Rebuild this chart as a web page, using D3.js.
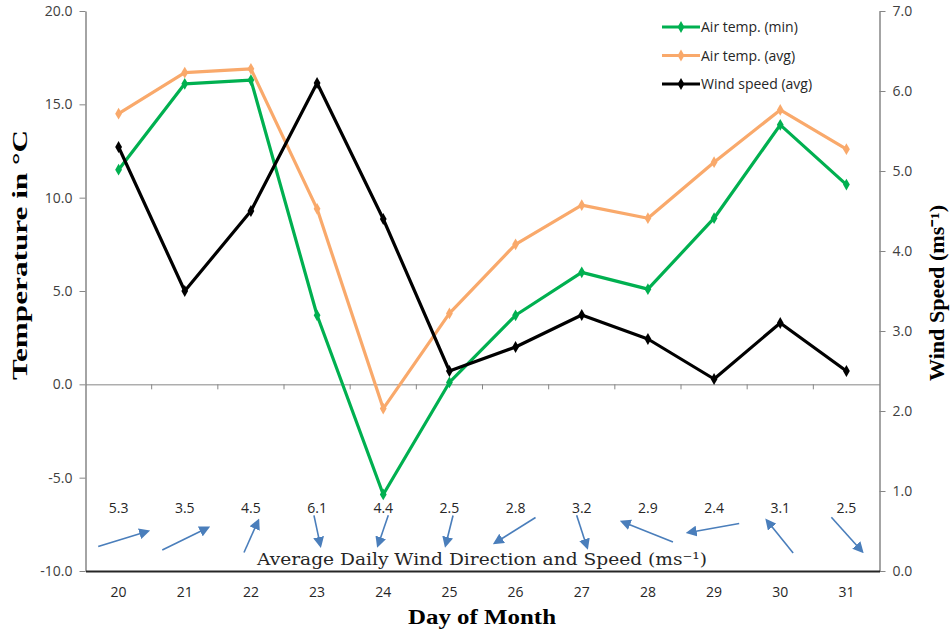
<!DOCTYPE html>
<html><head><meta charset="utf-8">
<script src="https://cdn.jsdelivr.net/npm/d3@7"></script>
<style>body{margin:0;background:#fff}svg{display:block}</style>
</head><body>
<svg id="chart" width="950" height="632"></svg>
<script>
const days = ["20","21","22","23","24","25","26","27","28","29","30","31"];
const tempMin = [11.5,16.1,16.3,3.7,-5.9,0.1,3.7,6.0,5.1,8.9,13.9,10.7];
const tempAvg = [14.5,16.7,16.9,9.4,-1.3,3.8,7.5,9.6,8.9,11.9,14.7,12.6];
const windSpeed = [5.3,3.5,4.5,6.1,4.4,2.5,2.8,3.2,2.9,2.4,3.1,2.5];
// bearing the arrow points toward (degrees, 0 = up, clockwise)
const windDir = [73,64,24,168,199,194,238,162,292,260,321,138];
const leftTicks = [-10,-5,0,5,10,15,20];
const rightTicks = [0,1,2,3,4,5,6,7];
const seriesNames = ["Air temp. (min)","Air temp. (avg)","Wind speed (avg)"];
const seriesColors = ["#00B050","#F9A96B","#000000"];

// drawing layout of the hand-placed arrows (length, vertical centre) — not data
const arrowLen = [51,50,34,30,31,30,47,33,54,51,41,45];
const arrowMidY = [539,539,537,530,530,530,530,531,532,528,537,534];

const fmt = d => d.toFixed(1);
const svg = d3.select("#chart");
const L = 85.5, R = 879.5, T = 11, B = 571;
const x = d3.scaleBand().domain(days).range([L, R]);
const yT = d3.scaleLinear().domain([-10, 20]).range([B, T]);
const yW = d3.scaleLinear().domain([0, 7]).range([B, T]);
const cx = d => x(d) + x.bandwidth() / 2;
const sans = "'Open Sans', 'Liberation Sans', sans-serif";
const serif = "'DejaVu Serif', 'Liberation Serif', serif";

// Left axis
const la = svg.append("g").attr("transform", `translate(${L},0)`)
  .call(d3.axisLeft(yT).tickValues(leftTicks).tickFormat(fmt).tickSize(6).tickSizeOuter(0));
la.select(".domain").attr("stroke", "#868686").attr("stroke-width", 1.5);
la.selectAll(".tick line").attr("stroke", "#868686");
la.selectAll(".tick text").attr("font-family", sans).attr("font-size", 14).attr("fill", "#404040").attr("dx", "-4");

// Right axis
const ra = svg.append("g").attr("transform", `translate(${R},0)`)
  .call(d3.axisRight(yW).tickValues(rightTicks).tickFormat(fmt).tickSize(6).tickSizeOuter(0));
ra.select(".domain").attr("stroke", "#868686").attr("stroke-width", 1.5);
ra.selectAll(".tick line").attr("stroke", "#868686");
ra.selectAll(".tick text").attr("font-family", sans).attr("font-size", 14).attr("fill", "#404040").attr("dx", "4");

// zero line with category boundary ticks
const zg = svg.append("g").attr("transform", `translate(0,${yT(0)})`)
  .call(d3.axisBottom(x).tickSize(0).tickFormat(""));
zg.select(".domain").attr("stroke", "#868686").attr("stroke-width", 1);
zg.selectAll(".btick").data(days.slice(1)).join("line")
  .attr("x1", d => x(d)).attr("x2", d => x(d)).attr("y1", 0).attr("y2", 5)
  .attr("stroke", "#868686");

// bottom axis
const bg = svg.append("g").attr("transform", `translate(0,${B})`)
  .call(d3.axisBottom(x).tickSize(0).tickPadding(16));
bg.select(".domain").attr("stroke", "#262626").attr("stroke-width", 1.8);
bg.selectAll(".tick text").attr("font-family", sans).attr("font-size", 14).attr("fill", "#262626");

// lines
function drawSeries(vals, yScale, color) {
  const line = d3.line().x((d, i) => cx(days[i])).y(d => yScale(d));
  svg.append("path").datum(vals).attr("d", line).attr("fill", "none")
    .attr("stroke", color).attr("stroke-width", 3.2).attr("stroke-linejoin", "round");
  svg.append("g").selectAll("path").data(vals).join("path")
    .attr("d", d3.symbol(d3.symbolDiamond, 40))
    .attr("transform", (d, i) => `translate(${cx(days[i])},${yScale(d)})`)
    .attr("fill", color);
}
drawSeries(tempAvg, yT, seriesColors[1]);
drawSeries(tempMin, yT, seriesColors[0]);
drawSeries(windSpeed, yW, seriesColors[2]);

// wind speed labels
svg.append("g").selectAll("text").data(windSpeed).join("text")
  .attr("x", (d, i) => cx(days[i])).attr("y", 513)
  .attr("text-anchor", "middle").attr("font-family", sans).attr("font-size", 14)
  .attr("fill", "#262626").text(fmt);

// wind direction arrows
const defs = svg.append("defs");
defs.append("marker").attr("id", "ah").attr("viewBox", "0 0 10 10").attr("refX", 7).attr("refY", 5)
  .attr("markerWidth", 11).attr("markerHeight", 11).attr("markerUnits", "userSpaceOnUse")
  .attr("orient", "auto")
  .append("path").attr("d", "M0,0 L10,5 L0,10 Z").attr("fill", "#4A7EBB");
svg.append("g").selectAll("line").data(windDir).join("line")
  .each(function (deg, i) {
    const r = deg * Math.PI / 180;
    const h = arrowLen[i] / 2;
    const dx = Math.sin(r) * h, dy = -Math.cos(r) * h;
    const c = cx(days[i]) + (i === 0 ? 4 : 0), m = arrowMidY[i];
    d3.select(this).attr("x1", c - dx).attr("y1", m - dy).attr("x2", c + dx).attr("y2", m + dy);
  })
  .attr("stroke", "#4A7EBB").attr("stroke-width", 1.6).attr("marker-end", "url(#ah)");

// annotation title
svg.append("text").attr("x", 482).attr("y", 565).attr("text-anchor", "middle")
  .attr("font-family", serif).attr("font-size", 17).attr("fill", "#262626")
  .attr("textLength", 450).attr("lengthAdjust", "spacingAndGlyphs")
  .text("Average Daily Wind Direction and Speed (ms\u207B\u00B9)");

// axis titles
svg.append("text").attr("x", 482).attr("y", 624).attr("text-anchor", "middle")
  .attr("font-family", "'Liberation Serif', serif").attr("font-weight", "bold").attr("font-size", 20)
  .attr("fill", "#000").attr("textLength", 148).attr("lengthAdjust", "spacingAndGlyphs").text("Day of Month");
svg.append("text").attr("transform", "translate(27,255) rotate(-90)").attr("text-anchor", "middle")
  .attr("font-family", "'Liberation Serif', serif").attr("font-weight", "bold").attr("font-size", 20)
  .attr("fill", "#000").attr("textLength", 250).attr("lengthAdjust", "spacingAndGlyphs").text("Temperature in \u00B0C");
svg.append("text").attr("transform", "translate(944,293) rotate(-90)").attr("text-anchor", "middle")
  .attr("font-family", "'Liberation Serif', serif").attr("font-weight", "bold").attr("font-size", 20)
  .attr("fill", "#000").attr("textLength", 176).attr("lengthAdjust", "spacingAndGlyphs").text("Wind Speed (ms\u207B\u00B9)");

// legend
const lg = svg.append("g");
seriesNames.forEach((name, i) => {
  const yy = 27 + i * 28.5;
  lg.append("line").attr("x1", 662).attr("x2", 700).attr("y1", yy).attr("y2", yy)
    .attr("stroke", seriesColors[i]).attr("stroke-width", 3.2);
  lg.append("path").attr("d", d3.symbol(d3.symbolDiamond, 40))
    .attr("transform", `translate(681,${yy})`).attr("fill", seriesColors[i]);
  lg.append("text").attr("x", 701).attr("y", yy + 5).attr("font-family", sans)
    .attr("font-size", 14).attr("fill", "#262626").text(name);
});
</script>
</body></html>
